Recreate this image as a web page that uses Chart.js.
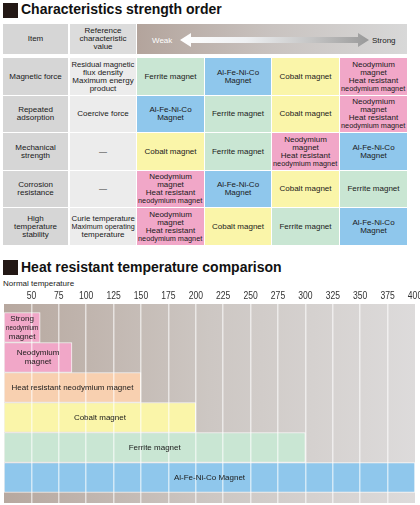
<!DOCTYPE html>
<html>
<head>
<meta charset="utf-8">
<script src="https://cdn.jsdelivr.net/npm/chart.js@4.4.1/dist/chart.umd.min.js"></script>
<style>
  html, body { margin: 0; padding: 0; }
  body {
    width: 420px; height: 505px; overflow: hidden; position: relative;
    background: #fff; color: #1a1a1a;
    font-family: "Liberation Sans", Arial, sans-serif;
  }
  .sq { position: absolute; left: 3px; width: 15px; height: 15px; background: #231815; }
  .ttl { position: absolute; left: 21px; font-size: 14px; font-weight: bold; line-height: 16px; color: #111; white-space: nowrap; }
  .cell {
    position: absolute; display: flex; flex-direction: column;
    align-items: center; justify-content: center;
    font-size: 8px; line-height: 8px; text-align: center; color: #1a1a1a;
  }
  .cell .ln { display: inline-block; white-space: nowrap; transform-origin: center; }
  #note { position: absolute; left: 3px; top: 279px; font-size: 8px; line-height: 10px; color: #222; }
  #wrap { position: absolute; left: 0; top: 286px; width: 432px; height: 219px; }
</style>
</head>
<body>
<div class="sq" style="top:3px"></div>
<div class="ttl" style="top:1px">Characteristics strength order</div>

<div id="table"></div>

<svg id="scale" style="position:absolute;left:137px;top:24px" width="270" height="30">
  <defs>
    <linearGradient id="hdr" x1="0" x2="1" y1="0" y2="0">
      <stop offset="0" stop-color="#b3a49c"/>
      <stop offset="0.5" stop-color="#c9c3c0"/>
      <stop offset="1" stop-color="#d8d8d8"/>
    </linearGradient>
    <linearGradient id="arw" x1="0" x2="1" y1="0" y2="0">
      <stop offset="0" stop-color="#ffffff"/>
      <stop offset="0.35" stop-color="#eef0f2"/>
      <stop offset="0.7" stop-color="#c4c4c4"/>
      <stop offset="1" stop-color="#999999"/>
    </linearGradient>
  </defs>
  <rect x="0" y="0" width="270" height="30" fill="url(#hdr)"/>
  <polygon points="43,16 54,9 54,13 221,13 221,9 232,16 221,23 221,19 54,19 54,23" fill="url(#arw)"/>
  <text x="15" y="19" font-size="8" fill="#fff" font-family="Liberation Sans, Arial, sans-serif">Weak</text>
  <text x="235" y="19" font-size="8" fill="#222" font-family="Liberation Sans, Arial, sans-serif">Strong</text>
</svg>

<div class="sq" style="top:260px"></div>
<div class="ttl" style="top:259px">Heat resistant temperature comparison</div>
<div id="note">Normal temperature</div>
<div id="wrap"><canvas id="heat"></canvas></div>

<script>
// ---- table data ----
const headItem = 'Item';
const headRef = 'Reference\ncharacteristic\nvalue';
const items = ['Magnetic force', 'Repeated\nadsorption', 'Mechanical\nstrength', 'Corrosion\nresistance', 'High\ntemperature\nstability'];
const refValues = ['Residual magnetic\nflux density\nMaximum energy\nproduct', 'Coercive force', '—', '—', 'Curie temperature\nMaximum operating\ntemperature'];
// weak -> strong, one row per item
const ranking = [
  ['ferrite', 'alnico', 'cobalt', 'neo'],
  ['alnico', 'ferrite', 'cobalt', 'neo'],
  ['cobalt', 'ferrite', 'neo', 'alnico'],
  ['neo', 'alnico', 'cobalt', 'ferrite'],
  ['neo', 'cobalt', 'ferrite', 'alnico']
];
const magnetNames = {
  ferrite: 'Ferrite magnet',
  alnico: 'Al-Fe-Ni-Co\nMagnet',
  cobalt: 'Cobalt magnet',
  neo: 'Neodymium\nmagnet\nHeat resistant\nneodymium magnet'
};
const magnetColors = { ferrite: '#c9e6d3', alnico: '#8fc7ec', cobalt: '#faf5a9', neo: '#f1a7c8' };

// ---- heat chart data ----
const normalTemp = 25;
const barLabels = ['Strong\nneodymium\nmagnet', 'Neodymium\nmagnet', 'Heat resistant neodymium magnet', 'Cobalt magnet', 'Ferrite magnet', 'Al-Fe-Ni-Co Magnet'];
const heatLimits = [58, 87, 150, 200, 300, 400];
const barColors = ['#f1a7c8', '#f1a7c8', '#f8d0b0', '#faf5a9', '#c9e6d3', '#8fc7ec'];
const tickMin = 25, tickMax = 400, tickStep = 25;

// build the table
const colX = [3, 70, 137, 205, 272, 340];
const colW = [65, 66, 67, 66, 67, 67];
const rowY = [58, 96, 133, 171, 208];
const rowH = [37, 36, 37, 36, 37];
const table = document.getElementById('table');

function addCell(x, y, w, h, bg, text) {
  const d = document.createElement('div');
  d.className = 'cell';
  d.style.cssText = `left:${x}px;top:${y}px;width:${w}px;height:${h}px;background:${bg}`;
  text.split('\n').forEach(t => {
    const s = document.createElement('span');
    s.className = 'ln';
    s.textContent = t;
    d.appendChild(s);
  });
  table.appendChild(d);
  // squeeze lines that are too wide for the cell
  d.querySelectorAll('.ln').forEach(s => {
    const max = w - 3;
    if (s.offsetWidth > max) s.style.transform = `scaleX(${max / s.offsetWidth})`;
  });
}

addCell(colX[0], 24, colW[0], 30, '#d6d6d6', headItem);
addCell(colX[1], 24, colW[1], 30, '#dcdcdc', headRef);
items.forEach((it, r) => {
  addCell(colX[0], rowY[r], colW[0], rowH[r], '#d6d6d6', it);
  addCell(colX[1], rowY[r], colW[1], rowH[r], '#ececec', refValues[r]);
  ranking[r].forEach((m, c) => {
    addCell(colX[c + 2], rowY[r], colW[c + 2], rowH[r], magnetColors[m], magnetNames[m]);
  });
});

// gradient background behind the temperature bars
const bandPlugin = {
  id: 'bands',
  beforeDraw(chart) {
    const { ctx, chartArea: a } = chart;
    const g = ctx.createLinearGradient(a.left, 0, a.right, 0);
    g.addColorStop(0, '#b7a89f');
    g.addColorStop(0.5, '#cdc7c3');
    g.addColorStop(1, '#dddbdb');
    ctx.save();
    ctx.fillStyle = g;
    ctx.fillRect(a.left, a.top, a.right - a.left, a.bottom - a.top);
    ctx.restore();
  }
};

// narrow tick labels, placed from the x scale's own ticks
const tickPlugin = {
  id: 'narrowTicks',
  afterDraw(chart) {
    const { ctx, scales: { x } } = chart;
    ctx.save();
    ctx.font = '11px "Liberation Sans", Arial, sans-serif';
    ctx.fillStyle = '#333';
    ctx.textAlign = 'center';
    ctx.textBaseline = 'middle';
    x.ticks.forEach(t => {
      if (t.value === tickMin) return;
      const px = x.getPixelForValue(t.value);
      ctx.save();
      ctx.translate(px, x.bottom - 8);
      ctx.scale(0.78, 1);
      ctx.fillText(String(t.value), 0, 0);
      ctx.restore();
    });
    ctx.restore();
  }
};

// names written inside the bars
const namePlugin = {
  id: 'names',
  afterDraw(chart) {
    const ctx = chart.ctx;
    const meta = chart.getDatasetMeta(0);
    ctx.save();
    ctx.font = '8px "Liberation Sans", Arial, sans-serif';
    ctx.fillStyle = '#1a1a1a';
    ctx.textAlign = 'center';
    ctx.textBaseline = 'middle';
    meta.data.forEach((bar, i) => {
      const lines = barLabels[i].split('\n');
      const cx = (bar.x + bar.base) / 2;
      const w = Math.abs(bar.x - bar.base) - 4;
      lines.forEach((t, j) => {
        ctx.fillText(t, cx, bar.y + (j - (lines.length - 1) / 2) * 9, w);
      });
    });
    ctx.restore();
  }
};

new Chart(document.getElementById('heat'), {
  type: 'bar',
  data: {
    datasets: [{
      data: heatLimits.map((v, i) => ({ y: i + 1, x: [normalTemp, v] })),
      backgroundColor: barColors,
      borderColor: 'rgba(255,255,255,0.85)',
      borderWidth: 1,
      borderSkipped: false,
      barPercentage: 1,
      categoryPercentage: 1
    }]
  },
  options: {
    indexAxis: 'y',
    responsive: true,
    maintainAspectRatio: false,
    animation: false,
    layout: { padding: { left: 4, right: 17, top: 0, bottom: 2 } },
    plugins: { legend: { display: false }, tooltip: { enabled: false } },
    scales: {
      x: {
        type: 'linear',
        position: 'top',
        min: tickMin,
        max: tickMax,
        afterFit: s => { s.height = 18; },
        ticks: { stepSize: tickStep, autoSkip: false, display: false },
        grid: {
          z: 1,
          drawTicks: false,
          lineWidth: 1.5,
          color: c => (c.tick && (c.tick.value === tickMin || c.tick.value === tickMax)) ? 'rgba(0,0,0,0)' : 'rgba(255,255,255,0.6)'
        },
        border: { display: false }
      },
      y: {
        type: 'linear',
        reverse: true,
        offset: false,
        min: 0.217,
        max: 6.85,
        ticks: { stepSize: 1, includeBounds: false },
        display: false
      }
    }
  },
  plugins: [bandPlugin, tickPlugin, namePlugin]
});
</script>
</body>
</html>
